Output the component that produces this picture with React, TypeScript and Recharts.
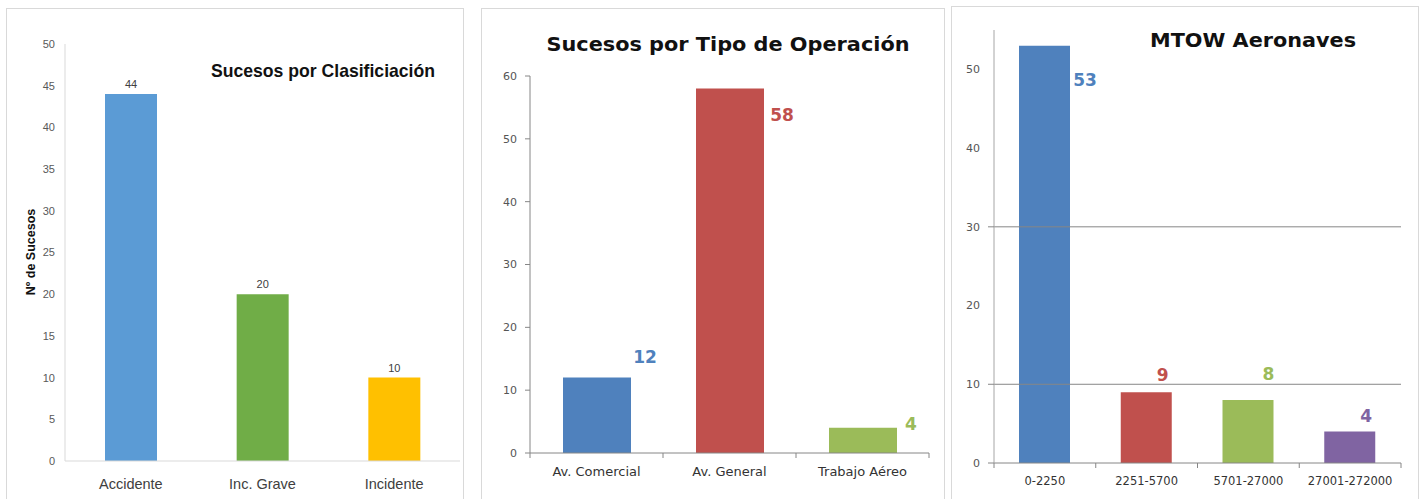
import React from 'react';
import { BarChart, Bar, XAxis, YAxis, Cell, LabelList, ReferenceLine } from 'recharts';

// --- Sucesos por Clasificación
const clasifCats = ['Accidente', 'Inc. Grave', 'Incidente'];
const clasifValues = [44, 20, 10];
const clasifTicks = [0, 5, 10, 15, 20, 25, 30, 35, 40, 45, 50];

// --- Sucesos por Tipo de Operación
const opCats = ['Av. Comercial', 'Av. General', 'Trabajo Aéreo'];
const opValues = [12, 58, 4];
const opTicks = [0, 10, 20, 30, 40, 50, 60];

// --- MTOW Aeronaves
const mtowCats = ['0-2250', '2251-5700', '5701-27000', '27001-272000'];
const mtowValues = [53, 9, 8, 4];
const mtowTicks = [0, 10, 20, 30, 40, 50];
const mtowGrid = [10, 30];

const clasifData = clasifCats.map((name, i) => ({ name, value: clasifValues[i] }));
const opData = opCats.map((name, i) => ({ name, value: opValues[i] }));
const mtowData = mtowCats.map((name, i) => ({ name, value: mtowValues[i] }));

const clasifColors = ['#5B9BD5', '#70AD47', '#FFC000'];
const officeColors = ['#4F81BD', '#C0504D', '#9BBB59', '#8064A2'];

// label offsets (dx from bar right edge, dy from bar top), as placed by hand in the original
const opLabelShift = [[14, -21], [18, 26], [14, -4]];
const mtowLabelShift = [[15, 34], [-9, -17], [-5, -26], [-9, -16]];

const fontA = '"Liberation Sans", Arial, sans-serif';
const fontB = '"DejaVu Sans", Verdana, sans-serif';

const frame = (left: number, top: number, width: number): React.CSSProperties => ({
  position: 'absolute', left, top, width, height: 520, border: '1px solid #D9D9D9', boxSizing: 'border-box',
});

const makeValueLabel = (shift: number[][], colors: string[]) => (props: any) => {
  const { x, y, width, value, index } = props;
  const [dx, dy] = shift[index] || [0, 0];
  return (
    <text x={x + width + dx} y={y + dy} textAnchor="middle" dominantBaseline="central"
      fill={colors[index]} fontFamily={fontB} fontWeight="bold" fontSize={17}>
      {value}
    </text>
  );
};

const makeCatTick = (catW: number, margin: number, fontSize: number) => (props: any) => {
  const { x, y, payload, index } = props;
  const axisY = y - margin;
  return (
    <g>
      {index === 0 && <line x1={x - catW / 2} x2={x - catW / 2} y1={axisY} y2={axisY + 5} stroke="#868686" />}
      <line x1={x + catW / 2} x2={x + catW / 2} y1={axisY} y2={axisY + 5} stroke="#868686" />
      <text x={x} y={y} dy="0.71em" textAnchor="middle" fill="#333" fontFamily={fontB} fontSize={fontSize}>
        {payload.value}
      </text>
    </g>
  );
};

const mtowYTick = (props: any) => {
  const { x, y, payload } = props;
  const axisX = x + 14;
  const marked = payload.value === 0 || mtowGrid.includes(payload.value);
  return (
    <g>
      {marked && <line x1={axisX - 6} x2={axisX} y1={y} y2={y} stroke="#868686" />}
      <text x={x} y={y} dy="0.355em" textAnchor="end" fill="#555" fontFamily={fontB} fontSize={11}>
        {payload.value}
      </text>
    </g>
  );
};

export default function App() {
  return (
    <div style={{ position: 'absolute', left: 0, top: 0, width: 1424, height: 499, overflow: 'hidden', background: '#fff' }}>
      <div style={frame(6, 8, 458)} />
      <div style={frame(481, 8, 464)} />
      <div style={frame(951, 6, 468)} />

      <div style={{ position: 'absolute', left: 6, top: 8 }}>
        <BarChart width={458} height={491} data={clasifData} margin={{ top: 36, right: 4, bottom: 0, left: 0 }}>
          <XAxis dataKey="name" height={38} axisLine={{ stroke: '#D9D9D9' }} tickLine={false} tickSize={0} tickMargin={18}
            tick={{ fill: '#404040', fontSize: 14.5, fontFamily: fontA }} interval={0} />
          <YAxis width={59} domain={[0, 50]} ticks={clasifTicks} axisLine={{ stroke: '#D9D9D9' }} tickLine={false}
            tickSize={0} tickMargin={10} tick={{ fill: '#595959', fontSize: 11, fontFamily: fontA }} interval={0} />
          <Bar dataKey="value" barSize={52} isAnimationActive={false}>
            {clasifData.map((d, i) => <Cell key={d.name} fill={clasifColors[i]} />)}
            <LabelList dataKey="value" position="top" offset={6} fill="#404040" fontSize={11} fontFamily={fontA} />
          </Bar>
        </BarChart>
      </div>

      <div style={{ position: 'absolute', left: 481, top: 8 }}>
        <BarChart width={464} height={491} data={opData} margin={{ top: 68, right: 16, bottom: 0, left: 0 }}>
          <XAxis dataKey="name" height={46} axisLine={{ stroke: '#868686' }} tickLine={false} tickSize={0} tickMargin={14}
            tick={makeCatTick(133, 14, 13)} interval={0} />
          <YAxis width={49} domain={[0, 60]} ticks={opTicks} axisLine={{ stroke: '#868686' }}
            tickLine={{ stroke: '#868686' }} tickSize={5} tickMargin={8}
            tick={{ fill: '#555', fontSize: 11, fontFamily: fontB }} interval={0} />
          <Bar dataKey="value" barSize={68} isAnimationActive={false}>
            {opData.map((d, i) => <Cell key={d.name} fill={officeColors[i]} />)}
            <LabelList dataKey="value" content={makeValueLabel(opLabelShift, officeColors)} />
          </Bar>
        </BarChart>
      </div>

      <div style={{ position: 'absolute', left: 951, top: 6 }}>
        <BarChart width={468} height={493} data={mtowData} margin={{ top: 24, right: 18, bottom: 0, left: 0 }}>
          {mtowGrid.map((v) => <ReferenceLine key={v} y={v} stroke="#868686" />)}
          <XAxis dataKey="name" height={36} axisLine={{ stroke: '#868686' }} tickLine={false} tickSize={0} tickMargin={14}
            tick={makeCatTick(101.75, 14, 11.5)} interval={0} />
          <YAxis width={43} domain={[0, 55]} ticks={mtowTicks} axisLine={{ stroke: '#A6A6A6' }} tickLine={false}
            tickSize={0} tickMargin={14} tick={mtowYTick} interval={0} />
          <Bar dataKey="value" barSize={51} isAnimationActive={false}>
            {mtowData.map((d, i) => <Cell key={d.name} fill={officeColors[i]} />)}
            <LabelList dataKey="value" content={makeValueLabel(mtowLabelShift, officeColors)} />
          </Bar>
        </BarChart>
      </div>

      <svg width={1424} height={499} style={{ position: 'absolute', left: 0, top: 0, pointerEvents: 'none' }}>
        <text x={323} y={77} textAnchor="middle" fontFamily={fontA} fontWeight="bold" fontSize={19}
          textLength={224} lengthAdjust="spacingAndGlyphs" fill="#111">Sucesos por Clasificiación</text>
        <text x={31} y={252} transform="rotate(-90 31 252)" textAnchor="middle" dominantBaseline="central"
          fontFamily={fontA} fontWeight="bold" fontSize={12.5} fill="#111">Nº de Sucesos</text>
        <text x={728} y={51} textAnchor="middle" fontFamily={fontB} fontWeight="bold" fontSize={20}
          textLength={363} lengthAdjust="spacingAndGlyphs" fill="#111">Sucesos por Tipo de Operación</text>
        <text x={1253} y={47} textAnchor="middle" fontFamily={fontB} fontWeight="bold" fontSize={20}
          textLength={206} lengthAdjust="spacingAndGlyphs" fill="#111">MTOW Aeronaves</text>
      </svg>
    </div>
  );
}
